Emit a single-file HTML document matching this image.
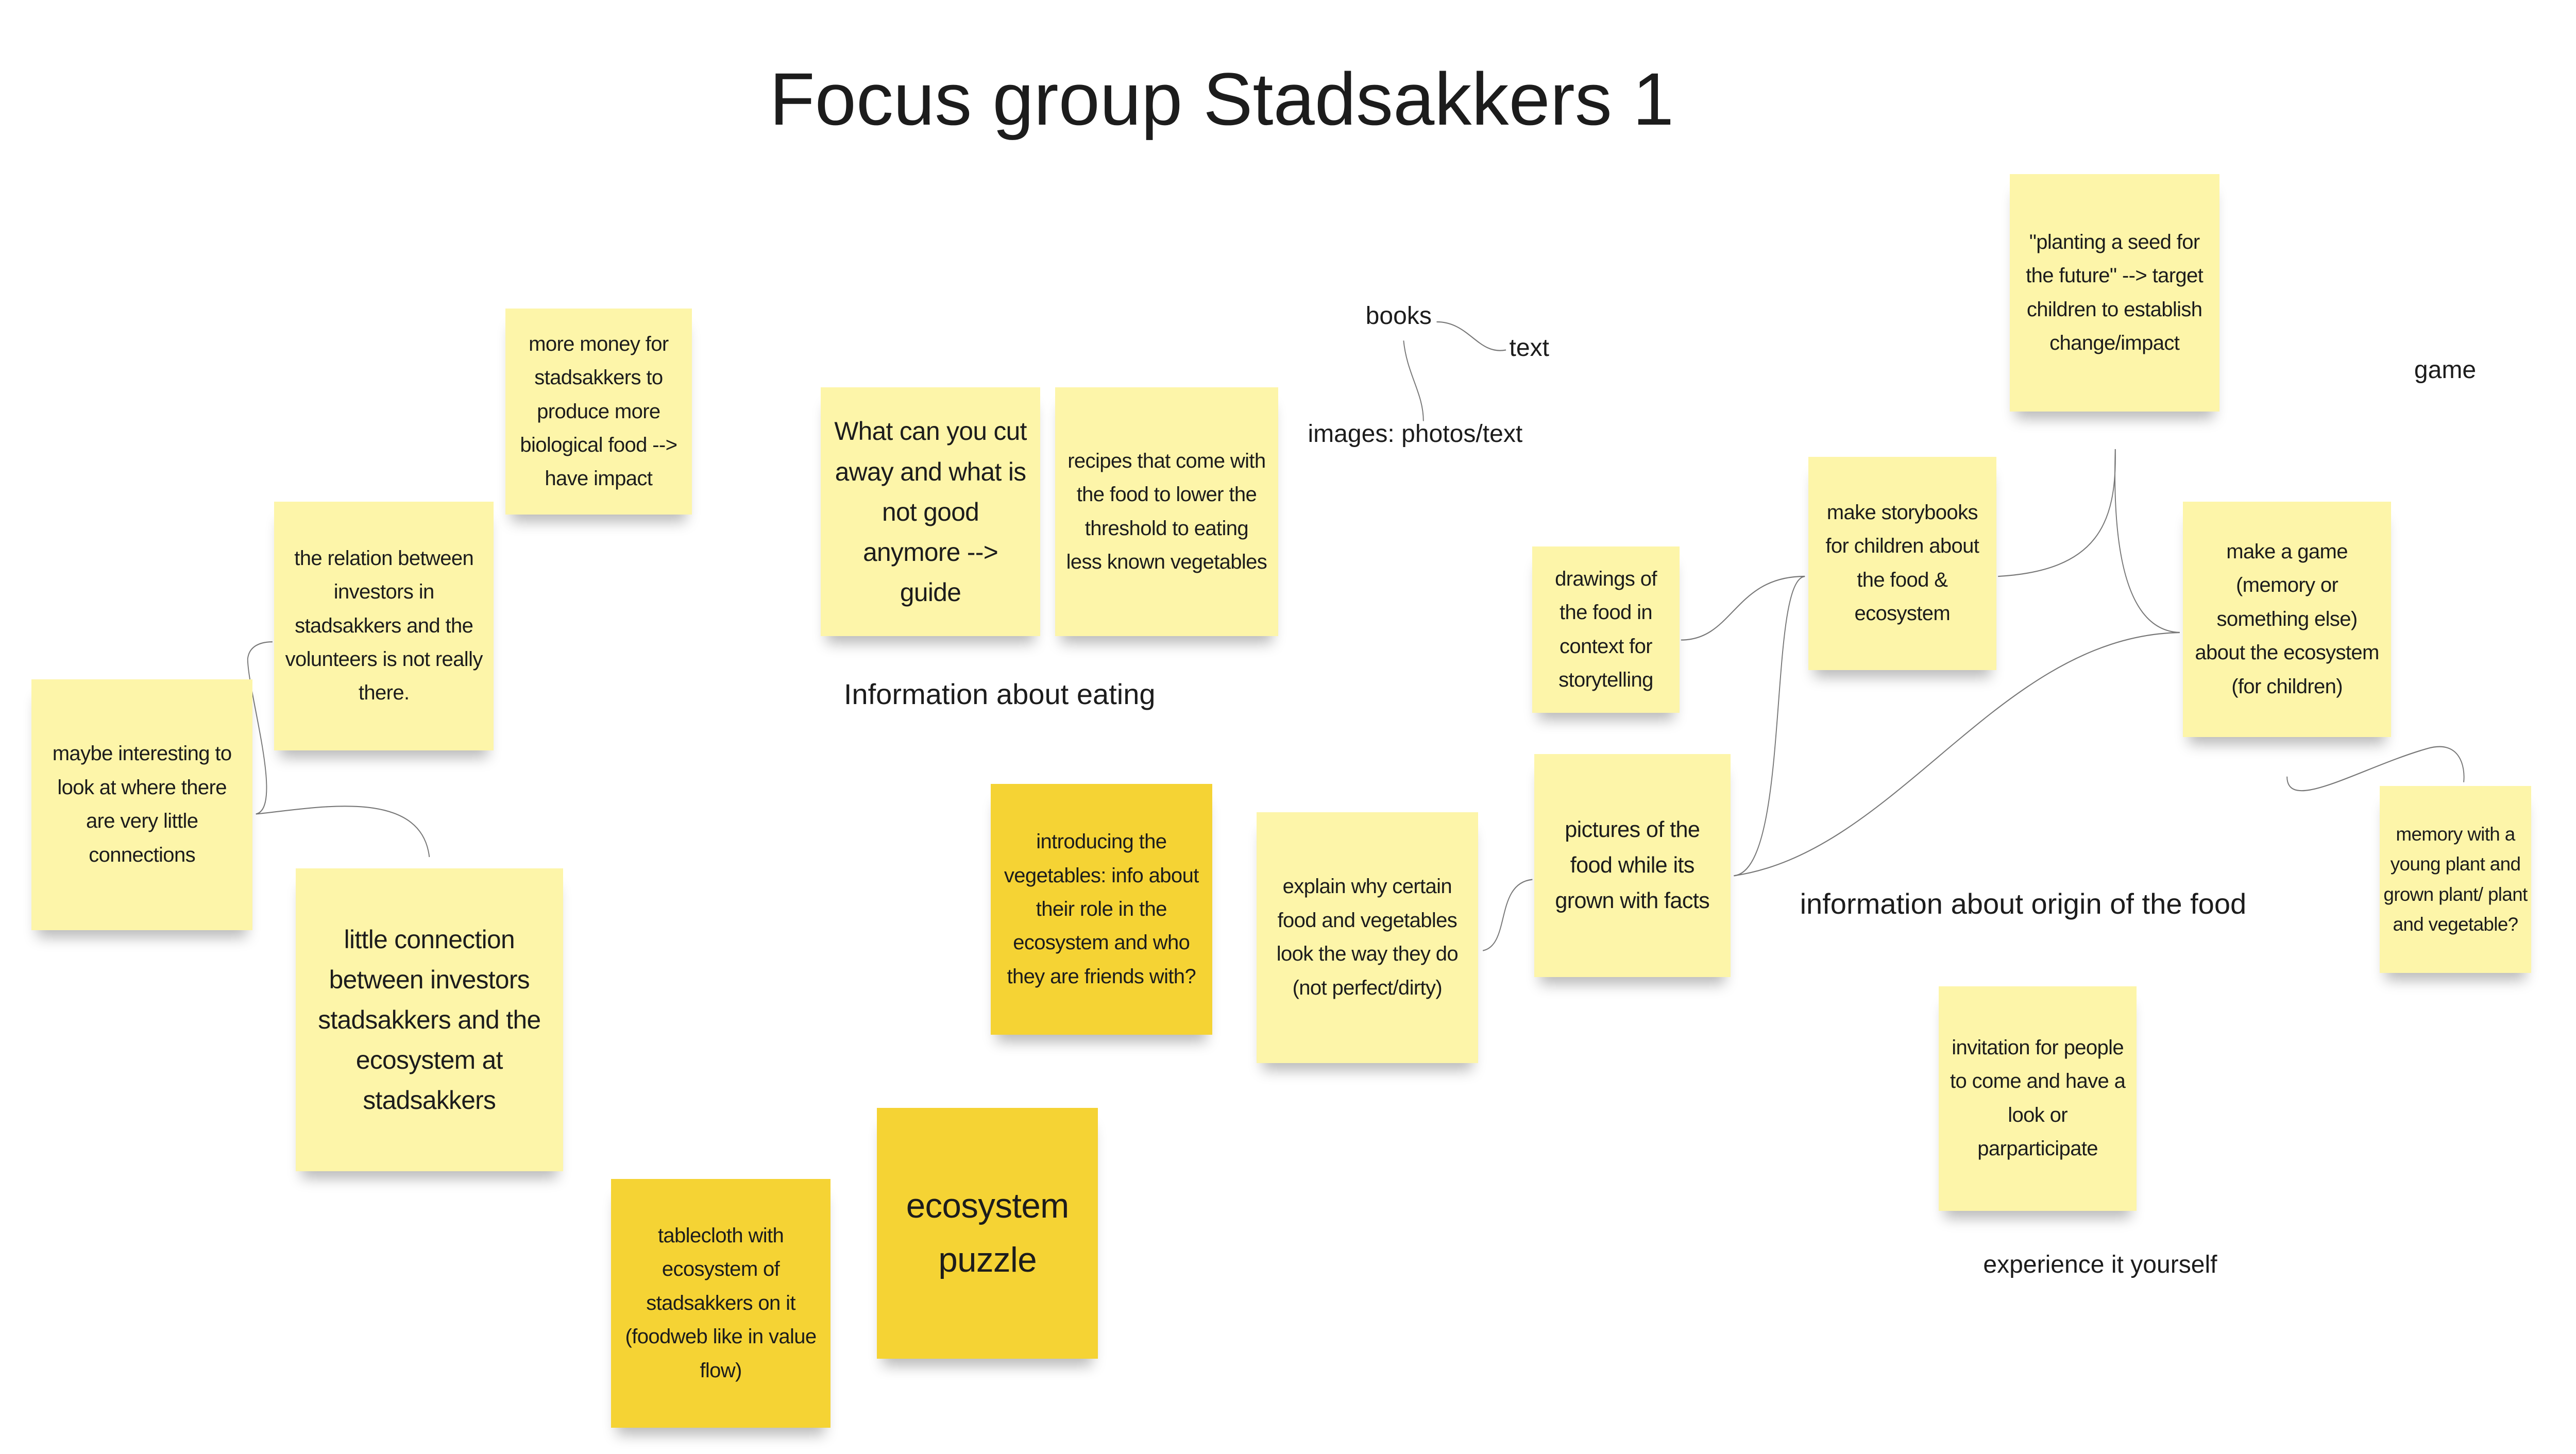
<!DOCTYPE html>
<html><head><meta charset="utf-8"><style>
html,body{margin:0;padding:0;background:#fff;}
body{width:100vw;height:100vh;overflow:hidden;position:relative;--x:calc(100vw / 1560);--y:calc(100vh / 777);--f:calc(100vw / 1560);font-family:"Liberation Sans",sans-serif;color:#1c1c1c;}
.s{position:absolute;background:#fdf5a9;display:flex;align-items:center;justify-content:center;text-align:center;font-size:calc(12.5*var(--f));line-height:calc(18*var(--y));letter-spacing:calc(-0.2*var(--f));box-shadow:0 calc(7*var(--y)) calc(7*var(--y)) calc(-3*var(--y)) rgba(0,0,0,0.28);box-sizing:border-box;padding:calc(6*var(--f));}
.d{background:#f5d334;}
.b{font-size:calc(15.5*var(--f));line-height:calc(21.5*var(--y));}
.l{position:absolute;white-space:nowrap;}
svg{position:absolute;left:0;top:0;width:100vw;height:100vh;}
</style></head><body>
<div class="l" style="left:calc(466*var(--x));top:calc(30*var(--y));font-size:calc(45*var(--f));">Focus group Stadsakkers 1</div>
<svg viewBox="0 0 1560 777" preserveAspectRatio="none" fill="none" stroke="#777" stroke-width="0.6">
<path d="M155,435 C172,432 150,370 150,352 C151,345 158,343 165,343"/>
<path d="M155,435 C190,432 255,420 260,458"/>
<path d="M1018,342 C1050,342 1050,308 1093,308"/>
<path d="M1093,308 C1070,310 1085,465 1050,468"/>
<path d="M1050,468 C1150,455 1210,340 1320,338"/>
<path d="M1210,308 C1270,305 1282,280 1281,240"/>
<path d="M1281,240 C1279,300 1290,337 1320,338"/>
<path d="M1385,415 C1385,435 1430,410 1470,400 C1490,395 1493,410 1492,418"/>
<path d="M898,508 C915,505 905,472 928,470"/>
<path d="M870,172 C890,172 895,190 912,187"/>
<path d="M850,182 C852,200 862,210 862,225"/>
</svg>
<div class="s" style="left:calc(306*var(--x));top:calc(165*var(--y));width:calc(113*var(--x));height:calc(110*var(--y));">more money for stadsakkers to produce more biological food --&gt; have impact</div>
<div class="s" style="left:calc(166*var(--x));top:calc(268*var(--y));width:calc(133*var(--x));height:calc(133*var(--y));">the relation between investors in stadsakkers and the volunteers is not really there.</div>
<div class="s" style="left:calc(19*var(--x));top:calc(363*var(--y));width:calc(134*var(--x));height:calc(134*var(--y));">maybe interesting to look at where there are very little connections</div>
<div class="s b" style="left:calc(179*var(--x));top:calc(464*var(--y));width:calc(162*var(--x));height:calc(162*var(--y));">little connection between investors stadsakkers and the ecosystem at stadsakkers</div>
<div class="s b" style="left:calc(497*var(--x));top:calc(207*var(--y));width:calc(133*var(--x));height:calc(133*var(--y));">What can you cut away and what is not good anymore --&gt; guide</div>
<div class="s" style="left:calc(639*var(--x));top:calc(207*var(--y));width:calc(135*var(--x));height:calc(133*var(--y));">recipes that come with the food to lower the threshold to eating less known vegetables</div>
<div class="s d" style="left:calc(600*var(--x));top:calc(419*var(--y));width:calc(134*var(--x));height:calc(134*var(--y));">introducing the vegetables: info about their role in the ecosystem and who they are friends with?</div>
<div class="s" style="left:calc(761*var(--x));top:calc(434*var(--y));width:calc(134*var(--x));height:calc(134*var(--y));">explain why certain food and vegetables look the way they do (not perfect/dirty)</div>
<div class="s" style="left:calc(928*var(--x));top:calc(292*var(--y));width:calc(89*var(--x));height:calc(89*var(--y));">drawings of the food in context for storytelling</div>
<div class="s" style="left:calc(929*var(--x));top:calc(403*var(--y));width:calc(119*var(--x));height:calc(119*var(--y));font-size:calc(13.5*var(--f));line-height:calc(19*var(--y));">pictures of the food while its grown with facts</div>
<div class="s" style="left:calc(1095*var(--x));top:calc(244*var(--y));width:calc(114*var(--x));height:calc(114*var(--y));">make storybooks for children about the food &amp; ecosystem</div>
<div class="s" style="left:calc(1217*var(--x));top:calc(93*var(--y));width:calc(127*var(--x));height:calc(127*var(--y));">"planting a seed for the future" --&gt; target children to establish change/impact</div>
<div class="s" style="left:calc(1322*var(--x));top:calc(268*var(--y));width:calc(126*var(--x));height:calc(126*var(--y));">make a game (memory or something else) about the ecosystem (for children)</div>
<div class="s" style="left:calc(1441*var(--x));top:calc(420*var(--y));width:calc(92*var(--x));height:calc(100*var(--y));font-size:calc(11.5*var(--f));line-height:calc(16*var(--y));padding:calc(2*var(--f));">memory with a young plant and grown plant/ plant and vegetable?</div>
<div class="s" style="left:calc(1174*var(--x));top:calc(527*var(--y));width:calc(120*var(--x));height:calc(120*var(--y));">invitation for people to come and have a look or parparticipate</div>
<div class="s d" style="left:calc(370*var(--x));top:calc(630*var(--y));width:calc(133*var(--x));height:calc(133*var(--y));">tablecloth with ecosystem of stadsakkers on it (foodweb like in value flow)</div>
<div class="s d" style="left:calc(531*var(--x));top:calc(592*var(--y));width:calc(134*var(--x));height:calc(134*var(--y));font-size:calc(21*var(--f));line-height:calc(29*var(--y));">ecosystem puzzle</div>
<div class="l" style="left:calc(827*var(--x));top:calc(161*var(--y));font-size:calc(15*var(--f));">books</div>
<div class="l" style="left:calc(914*var(--x));top:calc(178*var(--y));font-size:calc(15*var(--f));">text</div>
<div class="l" style="left:calc(792*var(--x));top:calc(224*var(--y));font-size:calc(15*var(--f));">images: photos/text</div>
<div class="l" style="left:calc(511*var(--x));top:calc(362*var(--y));font-size:calc(17.5*var(--f));">Information about eating</div>
<div class="l" style="left:calc(1090*var(--x));top:calc(474*var(--y));font-size:calc(17.5*var(--f));">information about origin of the food</div>
<div class="l" style="left:calc(1462*var(--x));top:calc(190*var(--y));font-size:calc(15*var(--f));">game</div>
<div class="l" style="left:calc(1201*var(--x));top:calc(668*var(--y));font-size:calc(15*var(--f));">experience it yourself</div>
</body></html>
